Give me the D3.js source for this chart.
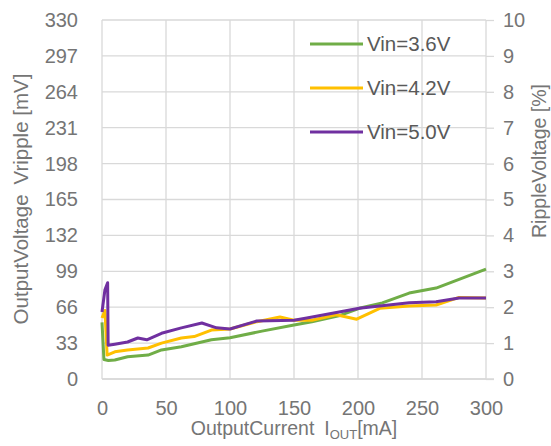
<!DOCTYPE html>
<html>
<head>
<meta charset="utf-8">
<script src="https://cdn.jsdelivr.net/npm/d3@7"></script>
<style>
  body { margin: 0; background: #fff; }
  text { font-family: "Liberation Sans", Arial, sans-serif; }
</style>
</head>
<body>
<div id="chart"></div>
<script>
// Frame
const FRAME_WIDTH = 551;
const FRAME_HEIGHT = 446;
const MARGINS = {left: 102, right: 65, top: 20, bottom: 67};
const VIS_WIDTH = FRAME_WIDTH - MARGINS.left - MARGINS.right;
const VIS_HEIGHT = FRAME_HEIGHT - MARGINS.top - MARGINS.bottom;

// Tick values
const xTicks = [0, 50, 100, 150, 200, 250, 300];
const yTicksMv = [0, 33, 66, 99, 132, 165, 198, 231, 264, 297, 330];
const yTicksPct = [0, 1, 2, 3, 4, 5, 6, 7, 8, 9, 10];

// Series: output current [mA] and ripple [mV]
const current36 = [0, 1.5, 5, 10, 20, 36, 46.5, 62, 85.5, 100, 125, 150, 164, 185, 201, 219, 240, 261, 280, 300];
const ripple36  = [52, 18, 17, 17.5, 20.5, 22, 26.7, 29.7, 36, 38, 44, 49.6, 52.7, 58, 65, 70, 79, 83.6, 92, 101];

const current42 = [0, 2.3, 4, 10, 20, 36, 46.5, 62, 72, 85.5, 100, 121, 139, 150, 164, 183, 199, 217, 240, 261, 279, 300];
const ripple42  = [56, 63, 22, 25, 26.7, 28.5, 33, 37.7, 39, 45, 46, 52.7, 57, 54, 54, 59, 55, 65, 67, 68, 75, 74.5];

const current50 = [0, 2.3, 4.4, 4.8, 10, 20, 28, 35, 46.5, 62, 78, 89.5, 100, 121, 150, 160, 201, 240, 261, 279, 300];
const ripple50  = [61.6, 82, 88.5, 31, 32, 34, 37.7, 36, 42, 47, 51.5, 47, 46, 53.3, 54, 56, 65, 70, 71, 74.5, 74.5];

const seriesNames = ["Vin=3.6V", "Vin=4.2V", "Vin=5.0V"];
const seriesColors = ["#70ad47", "#ffc000", "#7030a0"];

const series = [
  {name: seriesNames[0], color: seriesColors[0], x: current36, y: ripple36},
  {name: seriesNames[1], color: seriesColors[1], x: current42, y: ripple42},
  {name: seriesNames[2], color: seriesColors[2], x: current50, y: ripple50}
];

const GRID = "#d9d9d9";
const TEXT = "#757575";

const svg = d3.select("#chart")
  .append("svg")
    .attr("width", FRAME_WIDTH)
    .attr("height", FRAME_HEIGHT);

const g = svg.append("g")
  .attr("transform", "translate(" + MARGINS.left + "," + MARGINS.top + ")");

// Scales
const X_SCALE = d3.scaleLinear().domain([0, 300]).range([0, VIS_WIDTH]);
const Y_SCALE = d3.scaleLinear().domain([0, 330]).range([VIS_HEIGHT, 0]);
const Y2_SCALE = d3.scaleLinear().domain([0, 10]).range([VIS_HEIGHT, 0]);

// Gridlines
g.append("g")
  .selectAll("line")
  .data(yTicksMv)
  .enter()
  .append("line")
    .attr("x1", 0)
    .attr("x2", VIS_WIDTH)
    .attr("y1", d => Y_SCALE(d))
    .attr("y2", d => Y_SCALE(d))
    .attr("stroke", GRID)
    .attr("stroke-width", 1.3);

g.append("g")
  .selectAll("line")
  .data(xTicks)
  .enter()
  .append("line")
    .attr("x1", d => X_SCALE(d))
    .attr("x2", d => X_SCALE(d))
    .attr("y1", 0)
    .attr("y2", VIS_HEIGHT)
    .attr("stroke", GRID)
    .attr("stroke-width", 1.3);

// Bottom axis
const xAxis = g.append("g")
  .attr("transform", "translate(0," + VIS_HEIGHT + ")")
  .call(d3.axisBottom(X_SCALE).tickValues(xTicks).tickSize(0).tickPadding(22));
xAxis.select(".domain").remove();
xAxis.append("line")
  .attr("x1", 0).attr("x2", VIS_WIDTH + 8)
  .attr("stroke", GRID).attr("stroke-width", 1.3);

// Left axis
const yAxis = g.append("g")
  .call(d3.axisLeft(Y_SCALE).tickValues(yTicksMv).tickSize(0).tickPadding(24));
yAxis.select(".domain").remove();

// Right axis
const y2Axis = g.append("g")
  .attr("transform", "translate(" + VIS_WIDTH + ",0)")
  .call(d3.axisRight(Y2_SCALE).tickValues(yTicksPct).tickSize(8).tickPadding(9));
y2Axis.select(".domain").remove();
y2Axis.selectAll(".tick line").attr("stroke", GRID).attr("stroke-width", 1.3);

svg.selectAll(".tick text")
  .attr("font-size", "20px")
  .attr("fill", TEXT)
  .attr("font-family", "'Liberation Sans', Arial, sans-serif");

// Lines
const line = d3.line()
  .x(d => X_SCALE(d[0]))
  .y(d => Y_SCALE(d[1]));

g.selectAll(".series")
  .data(series)
  .enter()
  .append("path")
    .attr("class", "series")
    .attr("d", s => line(d3.zip(s.x, s.y)))
    .attr("fill", "none")
    .attr("stroke", s => s.color)
    .attr("stroke-width", 3)
    .attr("stroke-linejoin", "round");

// Legend
const legend = svg.append("g")
  .selectAll("g")
  .data(series)
  .enter()
  .append("g")
    .attr("transform", (d, i) => "translate(310," + (44 + i * 44) + ")");

legend.append("line")
  .attr("x1", 0).attr("x2", 53)
  .attr("stroke", d => d.color)
  .attr("stroke-width", 3);

legend.append("text")
  .attr("x", 57)
  .attr("dy", "0.36em")
  .attr("font-size", "20.5px")
  .attr("fill", "#595959")
  .text(d => d.name);

// Axis titles
const yTitle = svg.append("text")
  .attr("transform", "translate(28,199) rotate(-90)")
  .attr("text-anchor", "middle")
  .attr("font-size", "20.5px")
  .attr("fill", TEXT);
yTitle.append("tspan").text("OutputVoltage");
yTitle.append("tspan").attr("dx", 10).text("Vripple [mV]");

svg.append("text")
  .attr("transform", "translate(546,161) rotate(-90)")
  .attr("text-anchor", "middle")
  .attr("font-size", "19.5px")
  .attr("fill", TEXT)
  .text("RippleVoltage [%]");

const xTitle = svg.append("text")
  .attr("x", 294)
  .attr("y", 435)
  .attr("text-anchor", "middle")
  .attr("font-size", "19.5px")
  .attr("fill", TEXT);
xTitle.append("tspan").text("OutputCurrent");
xTitle.append("tspan").attr("dx", 10).text("I");
xTitle.append("tspan").attr("font-size", "13px").attr("dy", 4).text("OUT");
xTitle.append("tspan").attr("dy", -4).text("[mA]");
</script>
</body>
</html>
